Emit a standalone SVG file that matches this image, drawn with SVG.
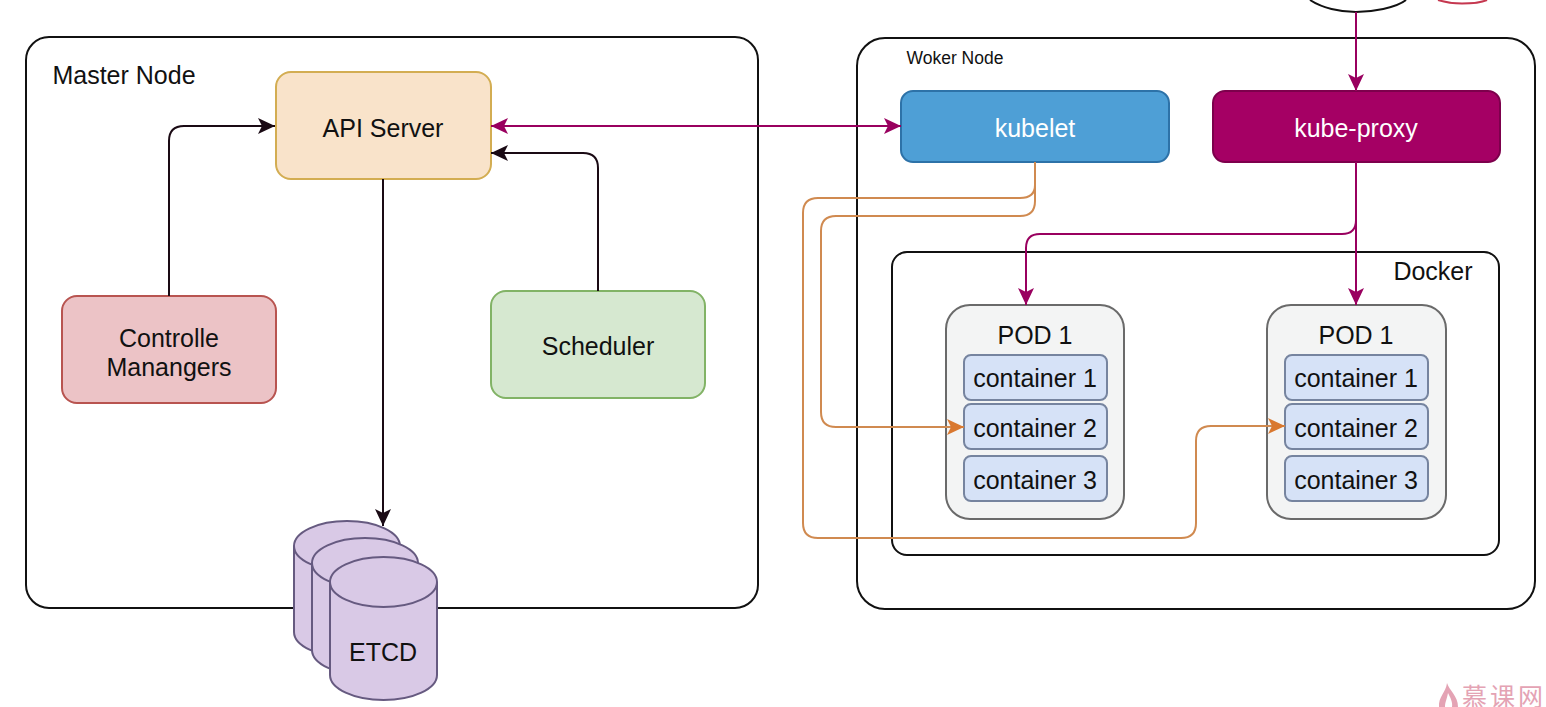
<svg xmlns="http://www.w3.org/2000/svg" width="1546" height="707" viewBox="0 0 1546 707">
<defs>
<marker id="ak" markerUnits="userSpaceOnUse" markerWidth="18" markerHeight="18" refX="17" refY="9" orient="auto"><path d="M0 1L17 9L0 17L4 9Z" fill="#1a0a14"/></marker>
<marker id="am" markerUnits="userSpaceOnUse" markerWidth="18" markerHeight="18" refX="17" refY="9" orient="auto"><path d="M0 1L17 9L0 17L4 9Z" fill="#99005f"/></marker>
<marker id="ams" markerUnits="userSpaceOnUse" markerWidth="18" markerHeight="18" refX="1" refY="9" orient="auto"><path d="M18 1L1 9L18 17L14 9Z" fill="#99005f"/></marker>
<marker id="ao" markerUnits="userSpaceOnUse" markerWidth="18" markerHeight="18" refX="17" refY="9" orient="auto"><path d="M0 1L17 9L0 17L4 9Z" fill="#d9782f"/></marker>
</defs>
<style>
text{font-family:"Liberation Sans",Arial,sans-serif;fill:#111;text-anchor:middle}
.t{font-size:25px}
.f{fill:none;stroke:#111;stroke-width:2}
.k{fill:none;stroke:#1a0a14;stroke-width:2}
.m{fill:none;stroke:#99005f;stroke-width:2}
.o{fill:none;stroke:#d08a50;stroke-width:2}
.pod{fill:#f3f4f4;stroke:#6a6a6a;stroke-width:2}
.c{fill:#d6e2f7;stroke:#76849f;stroke-width:2}
.db{fill:#d9c9e6;stroke:#665a80;stroke-width:2}
</style>
<rect width="1546" height="707" fill="#fff"/>
<g id="top-shapes">
<path d="M1310 0C1322 8 1340 12 1356 12C1372 12 1396 8 1406 0" class="f"/>
<path d="M1438 0C1448 3 1456 3.500 1462 3.500C1470 3.500 1480 3 1487 0" fill="none" stroke="#c5374f" stroke-width="2"/>
</g>
<g id="master-node"><rect x="26" y="37" width="732" height="571" rx="23" class="f"/><text x="124" y="84" class="t">Master Node</text></g>
<g id="worker-node"><rect x="857" y="38" width="678" height="571" rx="28" class="f"/><text x="955" y="64" font-size="17.500">Woker Node</text></g>
<g id="docker"><rect x="892" y="252" width="607" height="303" rx="15" class="f"/><text x="1433" y="280" class="t">Docker</text></g>
<g id="etcd">
<path class="db" d="M294 546A53 25 0 0 1 400 546V632A53 25 0 0 1 294 632Z"/>
<path class="db" d="M294 546A53 25 0 0 0 400 546" fill="none"/>
<path class="db" d="M312 563A53 25 0 0 1 418 563V650A53 25 0 0 1 312 650Z"/>
<path class="db" d="M312 563A53 25 0 0 0 418 563" fill="none"/>
<path class="db" d="M330 582A53.500 25 0 0 1 437 582V675A53.500 25 0 0 1 330 675Z"/>
<path d="M330 582A53.500 25 0 0 0 437 582" fill="none" stroke="#665a80" stroke-width="2"/>
<text x="383" y="661" class="t">ETCD</text>
</g>
<g id="api-server"><rect x="276" y="72" width="215" height="107" rx="15" fill="#f9e3ca" stroke="#d3ad52" stroke-width="2"/><text x="383" y="137" class="t">API Server</text></g>
<g id="controller"><rect x="62" y="296" width="214" height="107" rx="15" fill="#ecc3c6" stroke="#b85450" stroke-width="2"/><text x="169" y="347" class="t">Controlle</text><text x="169" y="376" class="t">Manangers</text></g>
<g id="scheduler"><rect x="491" y="291" width="214" height="107" rx="15" fill="#d6e8d0" stroke="#82b366" stroke-width="2"/><text x="598" y="355" class="t">Scheduler</text></g>
<g id="kubelet"><rect x="901" y="91" width="268" height="71" rx="12" fill="#4e9fd6" stroke="#2d72a8" stroke-width="2"/><text x="1035" y="137" class="t" style="fill:#fff">kubelet</text></g>
<g id="kube-proxy"><rect x="1213" y="91" width="287" height="71" rx="12" fill="#a50064" stroke="#7d004c" stroke-width="2"/><text x="1356" y="137" class="t" style="fill:#fff">kube-proxy</text></g>
<g id="pod-1"><rect x="946" y="305" width="178" height="214" rx="24" class="pod"/><text x="1035" y="344" class="t">POD 1</text>
<rect x="964" y="355" width="143" height="45" rx="7" class="c"/><text x="1035" y="387" class="t">container 1</text>
<rect x="964" y="404" width="143" height="45" rx="7" class="c"/><text x="1035" y="437" class="t">container 2</text>
<rect x="964" y="456" width="143" height="45" rx="7" class="c"/><text x="1035" y="489" class="t">container 3</text></g>
<g id="pod-2"><rect x="1267" y="305" width="179" height="214" rx="24" class="pod"/><text x="1356" y="344" class="t">POD 1</text>
<rect x="1285" y="355" width="143" height="45" rx="7" class="c"/><text x="1356" y="387" class="t">container 1</text>
<rect x="1285" y="404" width="143" height="45" rx="7" class="c"/><text x="1356" y="437" class="t">container 2</text>
<rect x="1285" y="456" width="143" height="45" rx="7" class="c"/><text x="1356" y="489" class="t">container 3</text></g>
<g id="connectors">
<path class="k" d="M169 296V141Q169 126 184 126H275" marker-end="url(#ak)"/>
<path class="k" d="M598 291V168Q598 153 583 153H491" marker-end="url(#ak)"/>
<path class="k" d="M383 179V526" marker-end="url(#ak)"/>
<path class="m" d="M491 126H901" marker-start="url(#ams)" marker-end="url(#am)"/>
<path class="m" d="M1356 12V91" marker-end="url(#am)"/>
<path class="m" d="M1356 162V305" marker-end="url(#am)"/>
<path class="m" d="M1356 220Q1356 234 1342 234H1040Q1026 234 1026 248V305" marker-end="url(#am)"/>
<path class="o" d="M1035 162V185Q1035 198 1020 198H818Q803 198 803 213V523Q803 538 818 538H1181Q1196 538 1196 523V441Q1196 426 1211 426H1285" marker-end="url(#ao)"/>
<path class="o" d="M1035 162V201Q1035 216 1020 216H836Q821 216 821 231V412Q821 427 836 427H964" marker-end="url(#ao)"/>
</g>
<g id="watermark">
<path d="M1447 683C1449 690 1458 696 1458 707H1452C1453 702 1450 697 1448 693C1447 699 1445 702 1445 707H1439C1438 697 1446 692 1447 683Z" fill="#e4a3b4"/>
<text x="1504" y="706" font-size="25" style="fill:#e4a3b4;font-family:'Noto Sans CJK SC',sans-serif;letter-spacing:3px">慕课网</text>
</g>
</svg>
